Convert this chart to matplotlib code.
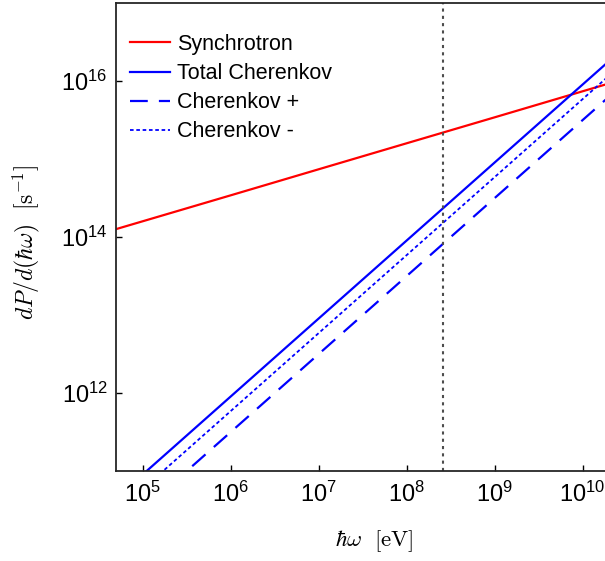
"""
Synchrotron vs Cherenkov emission spectrum
"""

import numpy as np
import matplotlib
matplotlib.use('Agg')
import matplotlib.pyplot as plt
from matplotlib.ticker import LogLocator, LogFormatterSciNotation, NullLocator

plt.rcParams['font.family'] = ['Liberation Sans', 'DejaVu Sans']

# photon energy (eV), read at each decade
energy = np.array([1e4, 1e5, 1e6, 1e7, 1e8, 1e9, 1e10, 1e11])

# dP/d(hbar omega) in s^-1
synchrotron = np.array([7.4e13, 1.59e14, 3.42e14, 7.38e14, 1.59e15, 3.42e15, 7.38e15, 1.59e16])
cherenkov_total = np.array([9.0e9, 9.0e10, 9.0e11, 9.0e12, 9.0e13, 9.0e14, 9.0e15, 9.0e16])
cherenkov_plus = np.array([3.15e9, 3.15e10, 3.15e11, 3.15e12, 3.15e13, 3.15e14, 3.15e15, 3.15e16])
cherenkov_minus = np.array([5.85e9, 5.85e10, 5.85e11, 5.85e12, 5.85e13, 5.85e14, 5.85e15, 5.85e16])

E_mark = 2.6e8

fig = plt.figure(figsize=(6.05, 5.61), dpi=100)
W, H = 605.0, 561.0
ax = fig.add_axes([116 / W, 90 / H, 494 / W, 468 / H])

ax.plot(energy, synchrotron, color='red', lw=1.6, label='Synchrotron')
ax.plot(energy, cherenkov_total, color='blue', lw=1.6, label='Total Cherenkov')
ax.plot(energy, cherenkov_plus, color='blue', lw=1.6, dashes=(8, 5), label='Cherenkov +')
ax.plot(energy, cherenkov_minus, color='blue', lw=1.3, dashes=(2, 1.5), label='Cherenkov -')
ax.axvline(x=E_mark, color='0.3', lw=1.5, dashes=(1.5, 2))

ax.set_xscale('log')
ax.set_yscale('log')
ax.set_xlim(4.98e4, 2.05e10)
ax.set_ylim(1e11, 1e17)

ax.xaxis.set_major_locator(LogLocator(base=10, numticks=20))
ax.xaxis.set_minor_locator(NullLocator())
ax.yaxis.set_major_locator(LogLocator(base=100, numticks=20))
ax.yaxis.set_major_formatter(LogFormatterSciNotation(base=10))
ax.yaxis.set_minor_locator(NullLocator())
ax.tick_params(direction='in', length=4, width=1, labelsize=17)
ax.tick_params(axis='x', pad=8)
ax.tick_params(axis='y', pad=6)

for s in ax.spines.values():
    s.set_linewidth(1.3)
    s.set_color('0.15')

ax.set_xlabel(r'$\hbar\omega\ \ [\mathrm{eV}]$', fontsize=16.5, math_fontfamily='cm', va='center')
ax.set_ylabel(r'$dP/d(\hbar\omega)\ \ [\mathrm{s}^{-1}]$', fontsize=17, math_fontfamily='cm', va='center')
ax.xaxis.set_label_coords(0.523, -0.15)
ax.yaxis.set_label_coords(-0.182, 0.488)

ax.legend(loc='upper left', bbox_to_anchor=(14 / 494, 0.934), frameon=False, fontsize=15.5,
          borderpad=0, borderaxespad=0, handlelength=1.85, handletextpad=0.35, labelspacing=0.38)

fig.savefig('out.png', dpi=100)
